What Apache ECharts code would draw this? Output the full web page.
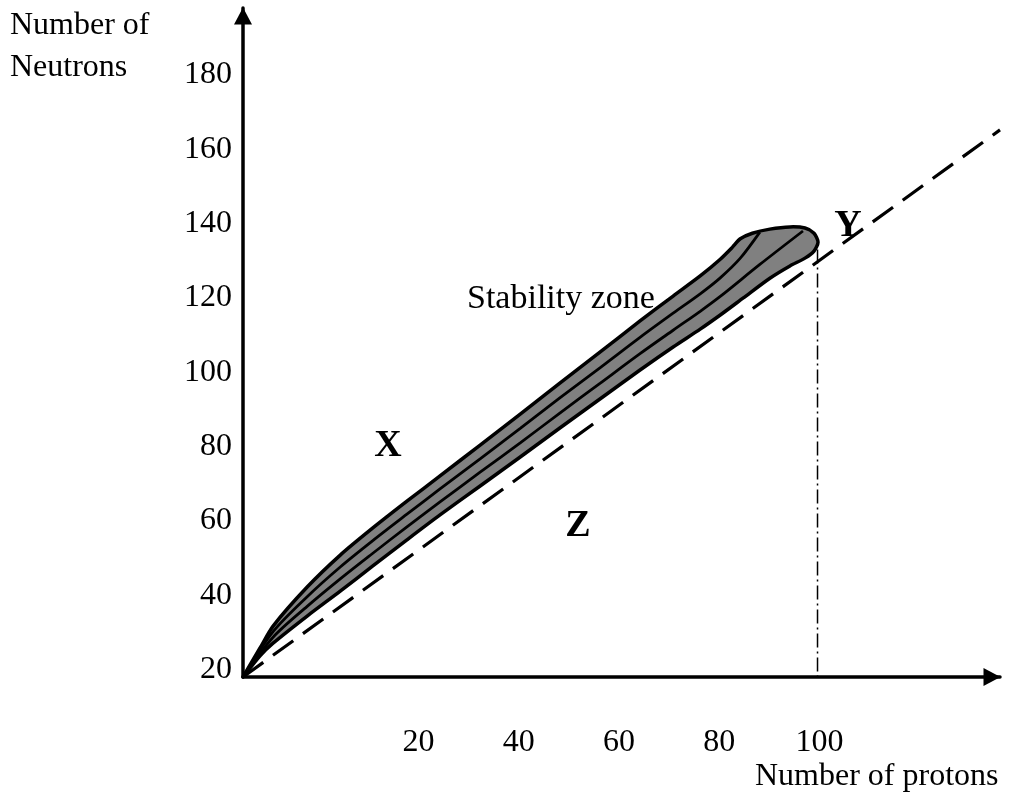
<!DOCTYPE html>
<html>
<head>
<meta charset="utf-8">
<script src="https://cdn.jsdelivr.net/npm/echarts@6/dist/echarts.min.js"></script>
<style>html,body{margin:0;padding:0;background:#fff}#c{width:1028px;height:793px}</style>
</head>
<body>
<div id="c"></div>
<script>
// Tick labels
const xTickLabels = [20, 40, 60, 80, 100];
const yTickLabels = [20, 40, 60, 80, 100, 120, 140, 160, 180];

// Stability zone outline (protons, neutrons) - upper boundary then lower boundary back to origin
const zoneUpper = [
  [-15, 18], [-11.6, 25.8], [-9.0, 31.7], [-2.2, 42.2], [4.4, 50.8], [10.9, 58.1],
  [17.7, 65.3], [24.3, 72.1], [32.3, 80.4], [40.3, 88.7], [48.2, 97.1], [56.2, 105.4],
  [64.2, 113.8], [70.8, 120.5], [76.2, 125.9], [80.2, 130.4], [82.6, 133.6], [84.2, 135.9],
  [86.6, 137.4], [90.1, 138.5], [94.1, 139.1], [97.1, 138.8], [98.9, 137.4], [99.7, 135.0]
];
const zoneLower = [
  [98.9, 132.6], [97.1, 130.7], [94.1, 128.6], [90.1, 125.3], [84.8, 120.0], [80.2, 115.4],
  [76.2, 111.6], [70.8, 106.8], [64.2, 100.6], [56.2, 92.8], [48.2, 85.0], [40.3, 77.2],
  [32.3, 69.4], [24.3, 61.6], [17.7, 54.9], [10.9, 47.9], [4.4, 41.1], [-2.2, 34.4],
  [-9.0, 27.1], [-11.6, 23.7], [-15, 18]
];
// Inner lines of the zone
const innerLineA = [
  [-15, 18], [-9.0, 30.2], [-2.2, 39.6], [4.4, 47.6], [10.9, 54.7], [17.7, 61.8],
  [24.3, 68.6], [32.3, 76.7], [40.3, 84.9], [48.2, 93.1], [56.2, 101.2], [64.2, 109.4],
  [70.8, 115.9], [76.2, 121.1], [80.2, 125.4], [84.2, 130.7], [88.1, 137.7]
];
const innerLineB = [
  [-15, 18], [-9.0, 28.7], [-2.2, 37.0], [4.4, 44.4], [10.9, 51.3], [17.7, 58.4],
  [24.3, 65.1], [32.3, 73.1], [40.3, 81.0], [48.2, 89.0], [56.2, 97.0], [64.2, 105.0],
  [70.8, 111.3], [76.2, 116.4], [80.2, 120.4], [88.1, 129.0], [96.7, 138.0]
];
// Dashed reference line and vertical dash-dot line
const referenceLine = [[-15, 18], [136, 165.2]];
const verticalLine = [[99.6, 133], [99.6, 18]];

const serif = '"Liberation Serif", "Times New Roman", serif';
const chart = echarts.init(document.getElementById('c'));
chart.setOption({
  animation: false,
  backgroundColor: '#fff',
  grid: { left: 243, right: 28, top: 8, bottom: 116, containLabel: false },
  xAxis: {
    type: 'value', min: -15, max: 136,
    splitLine: { show: false },
    axisTick: { show: false },
    axisLine: { show: true, onZero: false, lineStyle: { color: '#000', width: 3.5 },
      symbol: ['none', 'triangle'], symbolSize: [18, 17], symbolOffset: [0, -8] },
    axisLabel: { customValues: xTickLabels, margin: 50, color: '#000', fontSize: 32, fontFamily: serif }
  },
  yAxis: {
    type: 'value', min: 18, max: 198,
    splitLine: { show: false },
    axisTick: { show: false },
    axisLine: { show: true, onZero: false, lineStyle: { color: '#000', width: 3.5 },
      symbol: ['none', 'triangle'], symbolSize: [18, 17], symbolOffset: [0, -8] },
    axisLabel: { customValues: yTickLabels, margin: 11, color: '#000', fontSize: 32, fontFamily: serif }
  },
  series: [
    {
      type: 'line', data: referenceLine, showSymbol: false, clip: false, z: 2,
      lineStyle: { color: '#000', width: 3.2, type: [25, 12] }
    },
    {
      type: 'line', data: verticalLine, showSymbol: false, clip: false, z: 2,
      lineStyle: { color: '#000', width: 1.5, type: [14, 4, 2, 4] }
    },
    {
      type: 'custom', z: 3, clip: false,
      data: [0],
      renderItem: function (params, api) {
        const pts = zoneUpper.concat(zoneLower).map(p => api.coord(p));
        return {
          type: 'polygon',
          shape: { points: pts, smooth: 0.25 },
          style: { fill: '#808080', stroke: '#000', lineWidth: 3.5, lineJoin: 'round' }
        };
      }
    },
    {
      type: 'line', data: innerLineA, showSymbol: false, smooth: 0.3, z: 4,
      lineStyle: { color: '#000', width: 2.8 }
    },
    {
      type: 'line', data: innerLineB, showSymbol: false, smooth: 0.3, z: 4,
      lineStyle: { color: '#000', width: 2.8 }
    }
  ],
  graphic: [
    { type: 'text', x: 10, y: 26, style: { text: 'Number of', font: '32px ' + serif, fill: '#000', verticalAlign: 'middle' } },
    { type: 'text', x: 10, y: 68, style: { text: 'Neutrons', font: '32px ' + serif, fill: '#000', verticalAlign: 'middle' } },
    { type: 'text', x: 755, y: 777, style: { text: 'Number of protons', font: '32px ' + serif, fill: '#000', verticalAlign: 'middle' } },
    { type: 'text', x: 467, y: 299, style: { text: 'Stability zone', font: '34px ' + serif, fill: '#000', verticalAlign: 'middle' } },
    { type: 'text', x: 388, y: 446, style: { text: 'X', font: 'bold 38px ' + serif, fill: '#000', align: 'center', verticalAlign: 'middle' } },
    { type: 'text', x: 848, y: 226, style: { text: 'Y', font: 'bold 38px ' + serif, fill: '#000', align: 'center', verticalAlign: 'middle' } },
    { type: 'text', x: 578, y: 526, style: { text: 'Z', font: 'bold 38px ' + serif, fill: '#000', align: 'center', verticalAlign: 'middle' } }
  ]
});
</script>
</body>
</html>
